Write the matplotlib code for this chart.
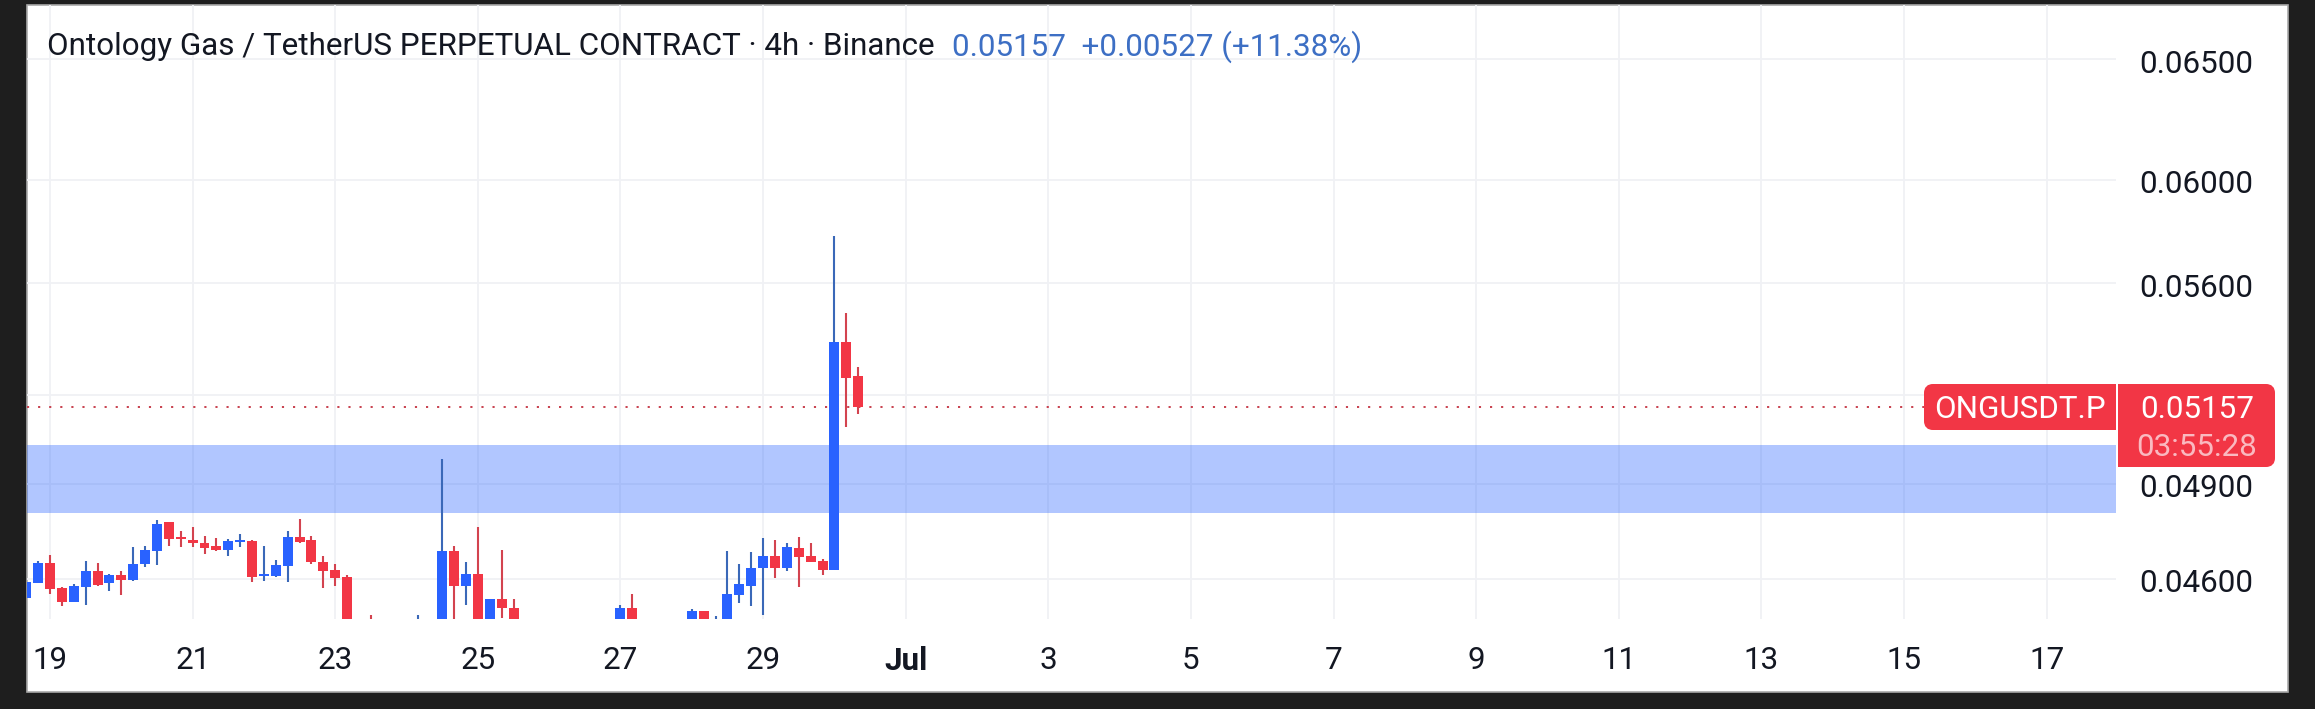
import matplotlib
matplotlib.use("Agg")
import matplotlib.pyplot as plt
from matplotlib.patches import FancyBboxPatch, Rectangle
from matplotlib.transforms import ScaledTranslation

plt.rcParams['font.family'] = ['Roboto', 'DejaVu Sans']

# 4h bars, counted from 19 June 00:00. Bars that sit below the pane are left out
bars = [-2, -1, 0, 1, 2, 3, 4, 5, 6, 7, 8, 9, 10, 11, 12, 13, 14, 15, 16, 17, 18, 19,
        20, 21, 22, 23, 24, 25, 27, 31, 33, 34, 35, 36, 37, 38, 39, 48, 49,
        54, 55, 56, 57, 58, 59, 60, 61, 62, 63, 64, 65, 66, 67, 68]
opens = [.04541, .04587, .04648, .04571, .04529, .04575, .04624, .04587, .04611, .04596, .04645,
         .04685, .04777, .04729, .04720, .04710, .04701, .04689, .04714, .04717, .04608, .04608,
         .04639, .04729, .04720, .04651, .04627, .04605, .04460, .04420, .04430, .04686, .04578,
         .04614, .04440, .04538, .04511, .04450, .04511, .04450, .04502, .04440, .04450, .04550,
         .04579, .04633, .04672, .04633, .04695, .04670, .04654, .04628, .05385, .05264]
highs = [.04590, .04654, .04673, .04575, .04583, .04654, .04648, .04614, .04624, .04698, .04701,
         .04783, .04777, .04748, .04761, .04732, .04726, .04723, .04739, .04720, .04701, .04657,
         .04748, .04786, .04732, .04670, .04645, .04611, .04490, .04490, .04981, .04701, .04651,
         .04761, .04538, .04689, .04538, .04520, .04553, .04508, .04502, .04487, .04686, .04645,
         .04682, .04726, .04720, .04711, .04729, .04711, .04660, .05779, .05489, .05296]
lows = [.04541, .04587, .04553, .04517, .04529, .04520, .04578, .04562, .04550, .04593, .04636,
        .04642, .04701, .04698, .04698, .04676, .04685, .04670, .04698, .04590, .04593, .04605,
        .04590, .04710, .04645, .04571, .04578, .04430, .04420, .04420, .04420, .04430, .04520,
        .04430, .04440, .04481, .04450, .04450, .04450, .04450, .04450, .04440, .04450, .04526,
        .04517, .04490, .04602, .04624, .04575, .04651, .04611, .04628, .05089, .05133]
closes = [.04590, .04648, .04568, .04529, .04577, .04624, .04581, .04611, .04596, .04645, .04689,
          .04770, .04723, .04723, .04710, .04695, .04689, .04717, .04720, .04605, .04614, .04642,
          .04729, .04714, .04651, .04624, .04602, .04450, .04440, .04460, .04686, .04577, .04614,
          .04440, .04538, .04511, .04450, .04511, .04450, .04502, .04450, .04470, .04553, .04584,
          .04633, .04670, .04633, .04698, .04667, .04651, .04627, .05385, .05258, .05157]

last_price = 0.05157
band_low = 0.04806
band_high = 0.05029

price_ticks = [0.065, 0.06, 0.056, 0.052, 0.049, 0.046]
# the 0.05200 label is covered by the price tag in the reference
price_labels = ["0.06500", "0.06000", "0.05600", "", "0.04900", "0.04600"]
date_ticks = [0, 12, 24, 36, 48, 60, 72, 84, 96, 108, 120, 132, 144, 156, 168]
date_labels = ["19", "21", "23", "25", "27", "29", "Jul", "3", "5", "7", "9", "11", "13", "15", "17"]

UP = "#2962FF"
DOWN = "#F23645"
UP_WICK = "#3A68B8"
DOWN_WICK = "#D3434F"
GRID = "#F0F1F5"
FONT = 22.6
W, H = 2315, 709


def box(x0, y0, x1, y1):
    """pixel box (top-left origin) to figure fractions"""
    return [x0 / W, 1 - y1 / H, (x1 - x0) / W, (y1 - y0) / H]


fig = plt.figure(figsize=(W / 100, H / 100), dpi=100, facecolor="#1E1E1E")

# white card + tags live on a full-figure axes in pixel coordinates
back = fig.add_axes([0, 0, 1, 1], zorder=0)
back.set_xlim(0, W)
back.set_ylim(H, 0)
back.axis("off")
back.add_patch(Rectangle((27, 5), 2261, 687, facecolor="white", edgecolor="#A9A9A9", linewidth=1.2))

ax = fig.add_axes(box(27, 5, 2116, 619), zorder=1)
ax.patch.set_alpha(0)
ax.set_yscale("log")
ax.set_ylim(0.04479, 0.06739)
ax.set_xlim(-1.935, 173.83)
for s in ax.spines.values():
    s.set_visible(False)

ax.set_yticks(price_ticks)
ax.set_yticklabels(price_labels)
ax.yaxis.set_minor_locator(matplotlib.ticker.NullLocator())
ax.yaxis.tick_right()
ax.set_xticks(date_ticks)
ax.set_xticklabels(date_labels)
ax.tick_params(axis="both", length=0, labelsize=FONT, labelcolor="#131722")
ax.tick_params(axis="y", pad=17)
ax.tick_params(axis="x", pad=19.5)
for lab in ax.get_xticklabels():
    if lab.get_text() == "Jul":
        lab.set_fontweight("bold")
# price labels sit about 2px under their grid lines
for lab in ax.get_yticklabels():
    lab.set_transform(lab.get_transform() + ScaledTranslation(0, -2 / 100, fig.dpi_scale_trans))
ax.grid(True, color=GRID, linewidth=1.3, zorder=0)
ax.set_axisbelow(True)

ax.axhspan(band_low, band_high, facecolor="#2962FF", alpha=0.36, edgecolor="none", zorder=1)
ax.axhline(last_price, color="#C8404E", linewidth=1.4, linestyle=(0, (1.1, 4.6)), zorder=1.5)

for i, o, h, l, c in zip(bars, opens, highs, lows, closes):
    up = c >= o
    ax.vlines(i, l, h, color=UP_WICK if up else DOWN_WICK, linewidth=1.5, zorder=2)
    ax.bar(i, abs(c - o), bottom=min(o, c), width=0.84, color=UP if up else DOWN, linewidth=0, zorder=3)

# tags and header above the chart
top = fig.add_axes([0, 0, 1, 1], zorder=2)
top.set_xlim(0, W)
top.set_ylim(H, 0)
top.axis("off")
top.patch.set_alpha(0)

top.add_patch(FancyBboxPatch((1928, 388), 184, 38, boxstyle="round,pad=0,rounding_size=5",
                             facecolor=DOWN, edgecolor=DOWN, linewidth=8 * 0.72))
top.add_patch(Rectangle((2060, 384), 56, 46, facecolor=DOWN, edgecolor="none"))
top.add_patch(FancyBboxPatch((2122, 388), 149, 75, boxstyle="round,pad=0,rounding_size=5",
                             facecolor=DOWN, edgecolor=DOWN, linewidth=8 * 0.72))
top.add_patch(Rectangle((2118, 384), 60, 83, facecolor=DOWN, edgecolor="none"))
top.text(2020, 409, "ONGUSDT.P", color="white", fontsize=FONT, ha="center", va="center")
top.text(2197, 409, "0.05157", color="white", fontsize=FONT, ha="center", va="center")
top.text(2197, 447, "03:55:28", color="#FAB9C0", fontsize=FONT, ha="center", va="center")

top.text(47, 46.5, "Ontology Gas / TetherUS PERPETUAL CONTRACT · 4h · Binance",
         color="#131722", fontsize=FONT, ha="left", va="center")
top.text(952, 46.5, "0.05157  +0.00527 (+11.38%)", color="#3D6FC4", fontsize=FONT, ha="left", va="center")

fig.savefig("out.png", dpi=100, facecolor=fig.get_facecolor())
